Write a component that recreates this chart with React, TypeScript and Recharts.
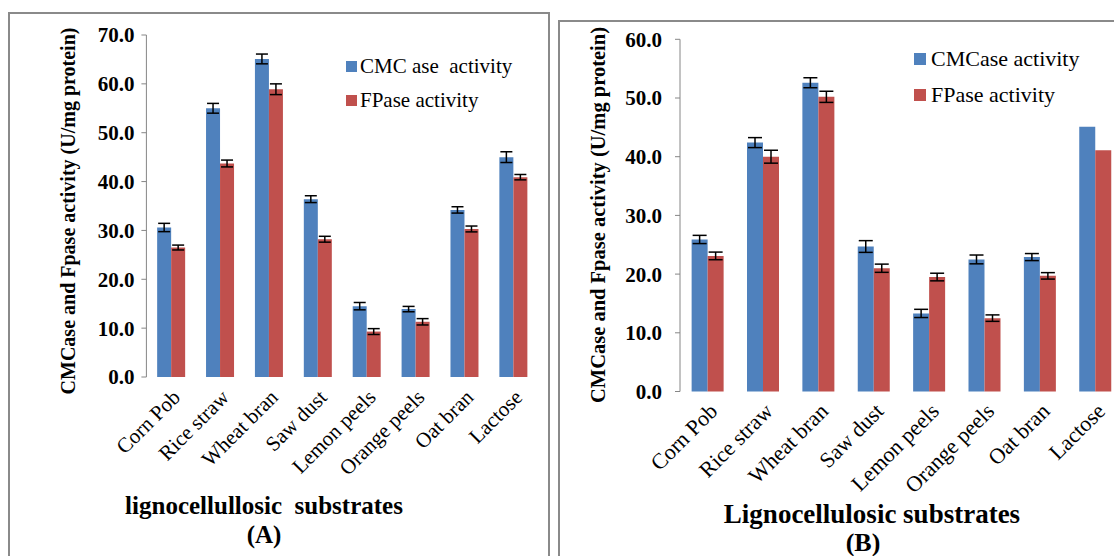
import React from 'react';
import { BarChart, Bar, XAxis, YAxis, ErrorBar, Legend } from 'recharts';

const categories = ['Corn Pob', 'Rice straw', 'Wheat bran', 'Saw dust', 'Lemon peels', 'Orange peels', 'Oat bran', 'Lactose'];

const cmcA = [30.6, 55.0, 65.1, 36.4, 14.5, 13.9, 34.2, 45.0];
const fpA = [26.5, 43.7, 58.9, 28.2, 9.3, 11.3, 30.3, 40.9];
const cmcErrA = [0.85, 1.0, 1.0, 0.7, 0.75, 0.55, 0.65, 1.1];
const fpErrA = [0.5, 0.7, 1.1, 0.6, 0.6, 0.65, 0.6, 0.55];

const cmcB = [25.9, 42.4, 52.6, 24.7, 13.3, 22.5, 22.9, 45.1];
const fpB = [23.1, 40.0, 50.2, 21.0, 19.5, 12.5, 19.7, 41.1];
const cmcErrB = [0.7, 0.85, 0.85, 1.0, 0.7, 0.75, 0.6, null];
const fpErrB = [0.65, 1.1, 0.95, 0.7, 0.65, 0.55, 0.55, null];

const yTicksA = [0, 10, 20, 30, 40, 50, 60, 70];
const yTicksB = [0, 10, 20, 30, 40, 50, 60];
const boundaryTicks = [0, 1, 2, 3, 4, 5, 6, 7, 8];

const seriesNamesA = ['CMC ase  activity', 'FPase activity'];
const seriesNamesB = ['CMCase activity', 'FPase activity'];

const yLabelText = 'CMCase and Fpase activity (U/mg protein)';

const BLUE = '#4F81BD';
const RED = '#C0504D';
const AXIS = '#868686';
const FONT = '"Liberation Serif", "Times New Roman", Times, serif';

const build = (cmc: number[], fp: number[], ce: (number | null)[], fe: (number | null)[]) =>
  categories.map((name, i) => ({ name, cmc: cmc[i], fp: fp[i], cmcErr: ce[i], fpErr: fe[i] }));

const dataA = build(cmcA, fpA, cmcErrA, fpErrA);
const dataB = build(cmcB, fpB, cmcErrB, fpErrB);

const makeLegend = (fontSize: number, rowH: number, sq: number, gap: number) => (props: any) => {
  const payload = props.payload || [];
  return (
    <div>
      {payload.map((p: any, i: number) => (
        <div
          key={i}
          style={{
            display: 'flex',
            alignItems: 'center',
            height: rowH,
            fontSize,
            lineHeight: rowH + 'px',
            whiteSpace: 'pre',
            color: '#000',
            fontFamily: FONT,
          }}
        >
          <span style={{ display: 'inline-block', width: sq, height: sq, background: p.color, marginRight: gap }} />
          {p.value}
        </div>
      ))}
    </div>
  );
};

const makeXTick = (fontSize: number) => (props: any) => {
  const { x, y, payload } = props;
  return (
    <g transform={`translate(${x},${y})`}>
      <text x={0} y={0} dy="0.71em" textAnchor="end" transform="rotate(-45)" fontSize={fontSize} fill="#000" fontFamily={FONT}>
        {payload.value}
      </text>
    </g>
  );
};

type PanelCfg = {
  left: number;
  width: number;
  height: number;
  data: any[];
  yMax: number;
  yTicks: number[];
  marginTop: number;
  marginRight: number;
  yAxisWidth: number;
  xAxisHeight: number;
  yTickFont: number;
  yTickMargin: number;
  xTickFont: number;
  xTickMargin: number;
  gap: string;
  errW: number;
  names: string[];
  legend: { left: number; top: number; font: number; row: number; sq: number; gap: number };
  yLabel: { cx: number; cy: number; size: number };
  title: { text: string; x: number; y: number; size: number; sub: string; sx: number; sy: number; subSize: number };
};

function Panel({ cfg }: { cfg: PanelCfg }) {
  const yLabel = () => (
    <text
      x={cfg.yLabel.cx}
      y={cfg.yLabel.cy}
      transform={`rotate(-90 ${cfg.yLabel.cx} ${cfg.yLabel.cy})`}
      textAnchor="middle"
      dominantBaseline="central"
      fontSize={cfg.yLabel.size}
      fontWeight="bold"
      fill="#000"
      fontFamily={FONT}
    >
      {yLabelText}
    </text>
  );
  const xTitle = () => (
    <g>
      <text
        x={cfg.title.x}
        y={cfg.title.y}
        textAnchor="middle"
        fontSize={cfg.title.size}
        fontWeight="bold"
        fill="#000"
        fontFamily={FONT}
        style={{ whiteSpace: 'pre' }}
      >
        {cfg.title.text}
      </text>
      <text
        x={cfg.title.sx}
        y={cfg.title.sy}
        textAnchor="middle"
        fontSize={cfg.title.subSize}
        fontWeight="bold"
        fill="#000"
        fontFamily={FONT}
      >
        {cfg.title.sub}
      </text>
    </g>
  );
  return (
    <div style={{ position: 'absolute', left: cfg.left, top: 0, width: cfg.width, height: cfg.height }}>
      <BarChart
        width={cfg.width}
        height={cfg.height}
        data={cfg.data}
        margin={{ top: cfg.marginTop, right: cfg.marginRight, bottom: 0, left: 0 }}
        barCategoryGap={cfg.gap}
        barGap={0}
      >
        <XAxis
          xAxisId="grid"
          type="number"
          domain={[0, 8]}
          ticks={boundaryTicks}
          allowDataOverflow
          height={0}
          tick={false}
          tickSize={6}
          axisLine={{ stroke: AXIS, strokeWidth: 1 }}
          tickLine={{ stroke: AXIS, strokeWidth: 1 }}
        />
        <XAxis
          xAxisId="cat"
          dataKey="name"
          type="category"
          height={cfg.xAxisHeight}
          axisLine={false}
          tickLine={false}
          tickSize={0}
          tickMargin={cfg.xTickMargin}
          interval={0}
          tick={makeXTick(cfg.xTickFont)}
          label={xTitle}
        />
        <YAxis
          type="number"
          domain={[0, cfg.yMax]}
          ticks={cfg.yTicks}
          width={cfg.yAxisWidth}
          tickFormatter={(v: number) => v.toFixed(1)}
          tickSize={5}
          tickMargin={cfg.yTickMargin}
          axisLine={{ stroke: AXIS, strokeWidth: 1 }}
          tickLine={{ stroke: AXIS, strokeWidth: 1 }}
          tick={{ fontSize: cfg.yTickFont, fontWeight: 'bold', fill: '#000', fontFamily: FONT }}
          label={yLabel}
        />
        <Legend
          layout="vertical"
          align="center"
          verticalAlign="middle"
          content={makeLegend(cfg.legend.font, cfg.legend.row, cfg.legend.sq, cfg.legend.gap)}
          wrapperStyle={{ left: cfg.legend.left, top: cfg.legend.top, width: 240, height: 'auto' }}
        />
        <Bar xAxisId="cat" dataKey="cmc" name={cfg.names[0]} fill={BLUE} isAnimationActive={false}>
          <ErrorBar dataKey="cmcErr" width={cfg.errW} stroke="#000" strokeWidth={1.5} direction="y" isAnimationActive={false} />
        </Bar>
        <Bar xAxisId="cat" dataKey="fp" name={cfg.names[1]} fill={RED} isAnimationActive={false}>
          <ErrorBar dataKey="fpErr" width={cfg.errW} stroke="#000" strokeWidth={1.5} direction="y" isAnimationActive={false} />
        </Bar>
      </BarChart>
    </div>
  );
}

const cfgA: PanelCfg = {
  left: 0,
  width: 555,
  height: 556,
  data: dataA,
  yMax: 70,
  yTicks: yTicksA,
  marginTop: 35,
  marginRight: 17.5,
  yAxisWidth: 146.4,
  xAxisHeight: 179,
  yTickFont: 21,
  yTickMargin: 7,
  xTickFont: 21,
  xTickMargin: 11,
  gap: '22%',
  errW: 6,
  names: seriesNamesA,
  legend: { left: 346, top: 49, font: 21, row: 34, sq: 11, gap: 3 },
  yLabel: { cx: 68, cy: 211, size: 20 },
  title: { text: 'lignocellullosic  substrates', x: 264, y: 514, size: 25, sub: '(A)', sx: 264, sy: 543, subSize: 25 },
};

const cfgB: PanelCfg = {
  left: 555,
  width: 600,
  height: 556,
  data: dataB,
  yMax: 60,
  yTicks: yTicksB,
  marginTop: 39.3,
  marginRight: 32,
  yAxisWidth: 125,
  xAxisHeight: 164.5,
  yTickFont: 21,
  yTickMargin: 13,
  xTickFont: 22,
  xTickMargin: 10,
  gap: '21%',
  errW: 7,
  names: seriesNamesB,
  legend: { left: 359, top: 41, font: 22, row: 36, sq: 12, gap: 5 },
  yLabel: { cx: 43, cy: 215, size: 20.5 },
  title: { text: 'Lignocellulosic substrates', x: 317, y: 523, size: 27, sub: '(B)', sx: 308, sy: 551, subSize: 26 },
};

export default function App() {
  return (
    <div
      style={{
        position: 'absolute',
        left: 0,
        top: 0,
        width: 1114,
        height: 556,
        overflow: 'hidden',
        background: '#fff',
        fontFamily: FONT,
      }}
    >
      <div
        style={{
          position: 'absolute',
          left: 8,
          top: 12,
          width: 542,
          height: 600,
          border: '2px solid #8a8a8a',
          boxSizing: 'border-box',
        }}
      />
      <div
        style={{
          position: 'absolute',
          left: 558,
          top: 20,
          width: 600,
          height: 600,
          border: '2px solid #8a8a8a',
          boxSizing: 'border-box',
        }}
      />
      <Panel cfg={cfgA} />
      <Panel cfg={cfgB} />
    </div>
  );
}
